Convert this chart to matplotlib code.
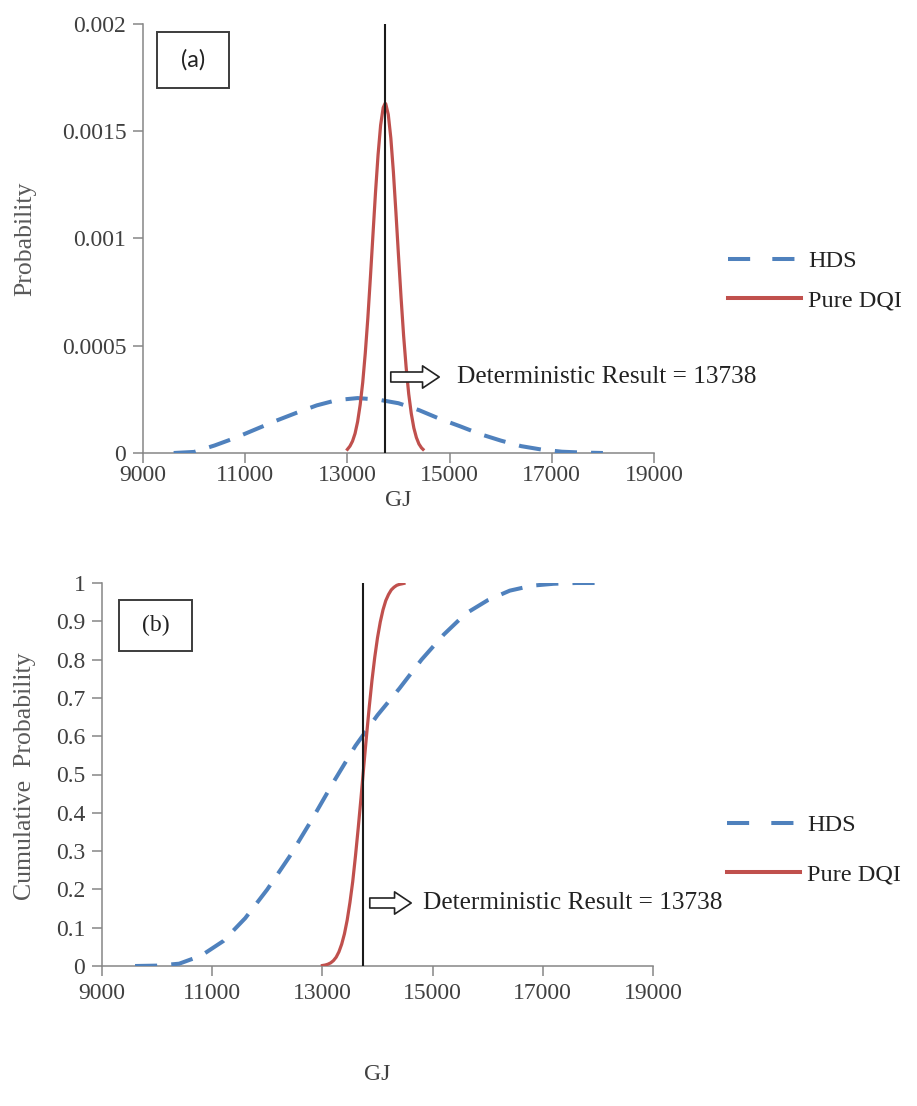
import matplotlib
matplotlib.use("Agg")
import matplotlib.pyplot as plt
from matplotlib.patches import Rectangle, FancyArrowPatch
from matplotlib.lines import Line2D

plt.rcParams['font.family'] = ['Liberation Serif', 'DejaVu Serif']

# ---- data ----
hds_x = [9600, 10000, 10400, 10800, 11200, 11600, 12000, 12400, 12800, 13200, 13600,
         14000, 14400, 14800, 15200, 15600, 16000, 16400, 16800, 17200, 17600, 18000]
hds_pdf = [0.0, 0.000005, 0.000035, 0.00007, 0.00011, 0.00015, 0.000187, 0.000222,
           0.000247, 0.000256, 0.000249, 0.000232, 0.0002, 0.00016, 0.000125, 0.000088,
           0.000058, 0.000032, 0.000016, 0.000006, 0.000002, 0.0]
hds_cdf = [0.0, 0.001, 0.006, 0.027, 0.065, 0.125, 0.2, 0.285, 0.38, 0.48, 0.575,
           0.655, 0.725, 0.8, 0.865, 0.92, 0.955, 0.98, 0.993, 0.998, 1.0, 1.0]

dqi_x = [13000, 13050, 13100, 13150, 13200, 13250, 13300, 13350, 13400, 13450, 13500,
         13550, 13600, 13650, 13700, 13738, 13750, 13800, 13850, 13900, 13950, 14000,
         14050, 14100, 14150, 14200, 14250, 14300, 14350, 14400, 14450, 14480]
dqi_pdf = [0.000017, 0.000032, 0.000055, 0.000091, 0.000146, 0.000225, 0.000329,
           0.000466, 0.000629, 0.000818, 0.001017, 0.001215, 0.00139, 0.001528, 0.00161,
           0.00163, 0.001628, 0.001578, 0.001468, 0.00131, 0.00112, 0.00092, 0.000725,
           0.000547, 0.000398, 0.000275, 0.000184, 0.000117, 0.000072, 0.000042,
           0.000024, 0.000017]
dqi_cdf = [0.0013, 0.0025, 0.0047, 0.0082, 0.014, 0.023, 0.037, 0.057, 0.084, 0.12,
           0.166, 0.22, 0.287, 0.36, 0.438, 0.5, 0.52, 0.6, 0.676, 0.746, 0.806, 0.857,
           0.898, 0.93, 0.954, 0.97, 0.982, 0.989, 0.994, 0.9965, 0.998, 0.999]

det_result = 13738
x_ticks = [9000, 11000, 13000, 15000, 17000, 19000]
pdf_ticks = [0, 0.0005, 0.001, 0.0015, 0.002]
pdf_tick_labels = ['0', '0.0005', '0.001', '0.0015', '0.002']
cdf_ticks = [0, 0.1, 0.2, 0.3, 0.4, 0.5, 0.6, 0.7, 0.8, 0.9, 1]
cdf_tick_labels = ['0', '0.1', '0.2', '0.3', '0.4', '0.5', '0.6', '0.7', '0.8', '0.9', '1']

blue = '#4f81bd'
red = '#c0504d'
axis_gray = '#868686'
text_gray = '#404040'
W, H = 917, 1106

fig = plt.figure(figsize=(W / 100, H / 100), dpi=100)


def px_axes(left, right, top, bottom):
    return fig.add_axes([left / W, 1 - bottom / H, (right - left) / W, (bottom - top) / H])


def style_axes(ax, yticks, ylabels, xpad):
    for s in ['top', 'right']:
        ax.spines[s].set_visible(False)
    for s in ['left', 'bottom']:
        ax.spines[s].set_color(axis_gray)
        ax.spines[s].set_linewidth(1.1)
    ax.set_xlim(9000, 19000)
    ax.set_xticks(x_ticks)
    ax.set_xticklabels([str(t) for t in x_ticks])
    ax.set_yticks(yticks)
    ax.set_yticklabels(ylabels)
    ax.tick_params(direction='out', length=7, width=1.1, color=axis_gray,
                   labelsize=17, labelcolor=text_gray)
    ax.tick_params(axis='x', pad=xpad)
    ax.tick_params(axis='y', pad=5)


def draw_series(ax, y_hds, y_dqi):
    ax.plot(hds_x, y_hds, color=blue, lw=2.9, dashes=(5.5, 3.5), dash_capstyle='butt',
            label='HDS', zorder=3)
    ax.plot(dqi_x, y_dqi, color=red, lw=2.3, label='Pure DQI', zorder=3)
    ax.axvline(det_result, color='#1a1a1a', lw=1.5, zorder=4)


def axis_titles(ylabel, ylab_x, ylab_y, gj_x, gj_y):
    fig.text(ylab_x / W, 1 - ylab_y / H, ylabel, fontsize=18.5, color='#595959',
             rotation=90, ha='center', va='center')
    fig.text(gj_x / W, 1 - gj_y / H, 'GJ', fontsize=17, color=text_gray,
             ha='center', va='center')


def arrow_note(x0, x1, y, tx):
    fig.patches.append(FancyArrowPatch(
        (x0, H - y), (x1, H - y), transform=None,
        arrowstyle='simple,head_length=0.75,head_width=1.0,tail_width=0.45',
        mutation_scale=16, fc='white', ec='#222222', lw=1.2))
    fig.text(tx / W, 1 - y / H, 'Deterministic Result = 13738', fontsize=18.3,
             color='#222222', va='center', ha='left')


def label_box(x0, y0, x1, y1, txt, family):
    fig.patches.append(Rectangle((x0 / W, 1 - y1 / H), (x1 - x0) / W, (y1 - y0) / H,
                                 transform=fig.transFigure, fill=False,
                                 ec='#3c3c3c', lw=1.4))
    fig.text((x0 + x1) / 2 / W, 1 - (y0 + y1) / 2 / H, txt, fontsize=17, family=family,
             color='#222222', ha='center', va='center')


def legend_at(ax, x, yc, spacing):
    handles = [Line2D([], [], color=blue, lw=2.9, dashes=(5.5, 5.5), dash_capstyle='butt'),
               Line2D([], [], color=red, lw=2.9)]
    ax.legend(handles, ['HDS', 'Pure DQI'], loc='center left',
              bbox_to_anchor=(x / W, 1 - yc / H), bbox_transform=fig.transFigure,
              frameon=False, fontsize=17.5, borderpad=0, borderaxespad=0,
              handlelength=3.0, handletextpad=0.3, labelspacing=spacing,
              labelcolor='#222222')


# (a) probability density
ax1 = px_axes(143, 654, 24, 453)
draw_series(ax1, hds_pdf, dqi_pdf)
ax1.set_ylim(0, 0.002)
style_axes(ax1, pdf_ticks, pdf_tick_labels, 2)
axis_titles('Probability', 25, 239, 398, 501)
legend_at(ax1, 728, 281, 0.72)
arrow_note(388, 442, 377, 457)
label_box(157, 32, 229, 88, '(a)', ['Lato', 'DejaVu Sans'])

# (b) cumulative probability
ax2 = px_axes(102, 653, 583, 966)
draw_series(ax2, hds_cdf, dqi_cdf)
ax2.set_ylim(0, 1)
style_axes(ax2, cdf_ticks, cdf_tick_labels, 5)
axis_titles('Cumulative  Probability', 25, 776, 377, 1075)
legend_at(ax2, 727, 850, 1.15)
arrow_note(367, 414, 903, 423)
label_box(119, 600, 192, 651, '(b)', ['Liberation Serif', 'DejaVu Serif'])

fig.savefig('out.png', dpi=100)
